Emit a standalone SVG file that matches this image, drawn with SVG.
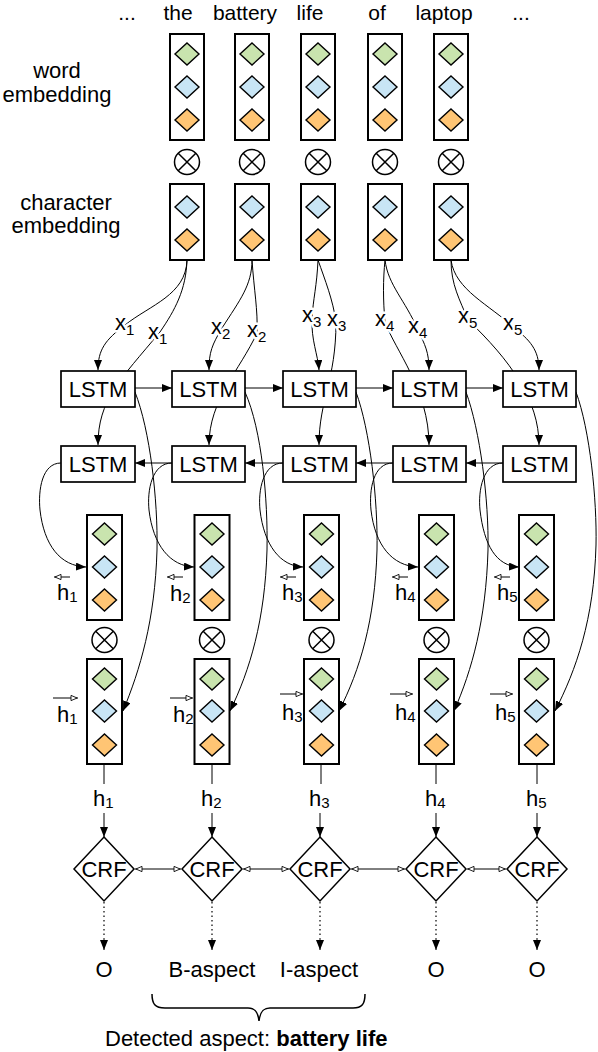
<svg xmlns="http://www.w3.org/2000/svg" width="598" height="1052" viewBox="0 0 598 1052">
<style>
text{font-family:"Liberation Sans",Arial,sans-serif;font-size:22px;fill:#000}
.box{fill:#fff;stroke:#000;stroke-width:2}
.g{fill:#c9e4ae;stroke:#000;stroke-width:1.4}
.b{fill:#c8e5f5;stroke:#000;stroke-width:1.4}
.o{fill:#ffc574;stroke:#000;stroke-width:1.4}
.ox{fill:#fff;stroke:#000;stroke-width:1.5}
.lstm{fill:#fff;stroke:#000;stroke-width:1.7}
.crf{fill:#fff;stroke:#000;stroke-width:1.5}
.c{fill:none;stroke:#000;stroke-width:1}
.dot{fill:none;stroke:#000;stroke-width:1.2;stroke-dasharray:1.5 3}
.halo{stroke:#fff;stroke-width:5;paint-order:stroke;stroke-linejoin:round}
.mid{text-anchor:middle}
.sub{font-size:15px}
.top{font-size:21px}
</style>
<defs>
<marker id="fa" viewBox="0 0 10 8" refX="10" refY="4" markerWidth="10" markerHeight="8" markerUnits="userSpaceOnUse" orient="auto"><path d="M0,0L10,4L0,8z" fill="#000"/></marker>
<marker id="oa" viewBox="0 0 9 8" refX="9" refY="4" markerWidth="8" markerHeight="7" markerUnits="userSpaceOnUse" orient="auto-start-reverse"><path d="M1,1L8,4L1,7z" fill="#fff" stroke="#000" stroke-width="1"/></marker>
<path id="dm" d="M0,-11L12,0L0,11L-12,0z"/>
<g id="otimes"><circle r="12.5" class="ox"/><path d="M-8.8,-8.8L8.8,8.8M8.8,-8.8L-8.8,8.8" stroke="#000" stroke-width="1.5"/></g>
</defs>

<!-- left labels -->
<g id="labels-left">
<text x="57" y="78" class="mid">word</text>
<text x="57" y="102" class="mid">embedding</text>
<text x="66" y="210" class="mid">character</text>
<text x="66" y="233" class="mid">embedding</text>
</g>

<!-- words -->
<g id="words">
<text x="127" y="20" class="mid top">...</text>
<text x="178" y="20" class="mid top">the</text>
<text x="245" y="20" class="mid top">battery</text>
<text x="310" y="20" class="mid top">life</text>
<text x="377" y="20" class="mid top">of</text>
<text x="444" y="20" class="mid top">laptop</text>
<text x="521" y="20" class="mid top">...</text>
</g>

<!-- embedding columns -->
<g id="emb1" transform="translate(187,0)">
<rect x="-17" y="34" width="34" height="106" class="box"/>
<use href="#dm" y="54" class="g"/><use href="#dm" y="87" class="b"/><use href="#dm" y="120" class="o"/>
<use href="#otimes" y="162"/>
<rect x="-17" y="184" width="34" height="76" class="box"/>
<use href="#dm" y="207" class="b"/><use href="#dm" y="240" class="o"/>
</g>
<g id="emb2" transform="translate(252,0)">
<rect x="-17" y="34" width="34" height="106" class="box"/>
<use href="#dm" y="54" class="g"/><use href="#dm" y="87" class="b"/><use href="#dm" y="120" class="o"/>
<use href="#otimes" y="162"/>
<rect x="-17" y="184" width="34" height="76" class="box"/>
<use href="#dm" y="207" class="b"/><use href="#dm" y="240" class="o"/>
</g>
<g id="emb3" transform="translate(318,0)">
<rect x="-17" y="34" width="34" height="106" class="box"/>
<use href="#dm" y="54" class="g"/><use href="#dm" y="87" class="b"/><use href="#dm" y="120" class="o"/>
<use href="#otimes" y="162"/>
<rect x="-17" y="184" width="34" height="76" class="box"/>
<use href="#dm" y="207" class="b"/><use href="#dm" y="240" class="o"/>
</g>
<g id="emb4" transform="translate(385,0)">
<rect x="-17" y="34" width="34" height="106" class="box"/>
<use href="#dm" y="54" class="g"/><use href="#dm" y="87" class="b"/><use href="#dm" y="120" class="o"/>
<use href="#otimes" y="162"/>
<rect x="-17" y="184" width="34" height="76" class="box"/>
<use href="#dm" y="207" class="b"/><use href="#dm" y="240" class="o"/>
</g>
<g id="emb5" transform="translate(451,0)">
<rect x="-17" y="34" width="34" height="106" class="box"/>
<use href="#dm" y="54" class="g"/><use href="#dm" y="87" class="b"/><use href="#dm" y="120" class="o"/>
<use href="#otimes" y="162"/>
<rect x="-17" y="184" width="34" height="76" class="box"/>
<use href="#dm" y="207" class="b"/><use href="#dm" y="240" class="o"/>
</g>

<!-- connectors -->
<g id="connectors">
<!-- inputs -->
<path class="c" d="M187,260 C186,295 150,305 125,325 C105,340 98,350 98,370" marker-end="url(#fa)"/>
<path class="c" d="M187,260 C186,290 175,310 160,332 C120,380 98,400 98,445" marker-end="url(#fa)"/>
<path class="c" d="M252,260 C252,285 240,300 222,328 C212,345 209,352 209,370" marker-end="url(#fa)"/>
<path class="c" d="M252,260 C254,290 258,310 257,333 C240,370 209,400 209,445" marker-end="url(#fa)"/>
<path class="c" d="M318,260 C317,285 313,300 312,318 C311,340 318,355 319,370" marker-end="url(#fa)"/>
<path class="c" d="M318,260 C325,280 333,300 336,322 C336,380 319,400 319,445" marker-end="url(#fa)"/>
<path class="c" d="M385,260 C383,280 383,300 385,322 C395,350 429,390 429,445" marker-end="url(#fa)"/>
<path class="c" d="M385,260 C388,285 405,300 418,330 C425,345 429,352 429,370" marker-end="url(#fa)"/>
<path class="c" d="M451,260 C451,285 460,300 468,320 C510,360 539,400 539,445" marker-end="url(#fa)"/>
<path class="c" d="M451,260 C455,290 490,305 513,327 C530,340 539,350 539,370" marker-end="url(#fa)"/>
<!-- forward / backward LSTM chain -->
<path class="c" d="M135,388 L172,388" marker-end="url(#fa)"/>
<path class="c" d="M245,388 L283,388" marker-end="url(#fa)"/>
<path class="c" d="M356,388 L393,388" marker-end="url(#fa)"/>
<path class="c" d="M466,388 L503,388" marker-end="url(#fa)"/>
<path class="c" d="M172,463 L135,463" marker-end="url(#fa)"/>
<path class="c" d="M283,463 L245,463" marker-end="url(#fa)"/>
<path class="c" d="M393,463 L356,463" marker-end="url(#fa)"/>
<path class="c" d="M503,463 L466,463" marker-end="url(#fa)"/>
<!-- backward LSTM to left h boxes -->
<path class="c" d="M61,463 C42,463 38,490 40,510 C44,545 60,566 86,567" marker-end="url(#fa)"/>
<path class="c" d="M172,463 C152,463 147,490 149,510 C153,545 170,566 194,567" marker-end="url(#fa)"/>
<path class="c" d="M283,463 C263,463 258,490 260,510 C264,545 280,566 303,567" marker-end="url(#fa)"/>
<path class="c" d="M393,463 C373,463 369,490 371,510 C375,545 392,566 418,567" marker-end="url(#fa)"/>
<path class="c" d="M503,463 C483,463 478,490 480,510 C484,545 496,566 519,567" marker-end="url(#fa)"/>
<!-- forward LSTM to right h boxes -->
<path class="c" d="M135,392 C150,430 158,500 157,550 C155,620 140,670 123,711" marker-end="url(#fa)"/>
<path class="c" d="M245,392 C262,430 268,500 267,550 C265,620 250,670 230,711" marker-end="url(#fa)"/>
<path class="c" d="M356,392 C370,430 378,500 377,550 C375,620 360,670 339,711" marker-end="url(#fa)"/>
<path class="c" d="M466,392 C480,430 489,500 488,550 C486,620 472,670 454,711" marker-end="url(#fa)"/>
<path class="c" d="M576,392 C590,430 597,500 596,545 C594,620 576,670 555,711" marker-end="url(#fa)"/>
<!-- h to CRF -->
<path class="c" d="M104,764 L104,784"/><path class="c" d="M104,813 L104,837" marker-end="url(#fa)"/>
<path class="c" d="M212,764 L212,784"/><path class="c" d="M212,813 L212,837" marker-end="url(#fa)"/>
<path class="c" d="M321,764 L321,784"/><path class="c" d="M320,813 L320,837" marker-end="url(#fa)"/>
<path class="c" d="M436,764 L436,784"/><path class="c" d="M436,813 L436,837" marker-end="url(#fa)"/>
<path class="c" d="M537,764 L537,784"/><path class="c" d="M537,813 L537,837" marker-end="url(#fa)"/>
<!-- CRF chain -->
<path class="c" d="M135,869 L181,869" marker-start="url(#oa)" marker-end="url(#oa)"/>
<path class="c" d="M243,869 L289,869" marker-start="url(#oa)" marker-end="url(#oa)"/>
<path class="c" d="M351,869 L405,869" marker-start="url(#oa)" marker-end="url(#oa)"/>
<path class="c" d="M467,869 L506,869" marker-start="url(#oa)" marker-end="url(#oa)"/>
<!-- outputs -->
<path class="dot" d="M104,902 L104,938"/><path class="c" d="M104,938 L104,950" marker-end="url(#fa)"/>
<path class="dot" d="M212,902 L212,938"/><path class="c" d="M212,938 L212,950" marker-end="url(#fa)"/>
<path class="dot" d="M320,902 L320,938"/><path class="c" d="M320,938 L320,950" marker-end="url(#fa)"/>
<path class="dot" d="M436,902 L436,938"/><path class="c" d="M436,938 L436,950" marker-end="url(#fa)"/>
<path class="dot" d="M537,902 L537,938"/><path class="c" d="M537,938 L537,950" marker-end="url(#fa)"/>
</g>

<!-- x labels -->
<g id="xlabels">
<text x="115" y="330" class="halo">x<tspan class="sub" dy="5">1</tspan></text>
<text x="148" y="339" class="halo">x<tspan class="sub" dy="5">1</tspan></text>
<text x="211" y="334" class="halo">x<tspan class="sub" dy="5">2</tspan></text>
<text x="247" y="337" class="halo">x<tspan class="sub" dy="5">2</tspan></text>
<text x="302" y="322" class="halo">x<tspan class="sub" dy="5">3</tspan></text>
<text x="327" y="326" class="halo">x<tspan class="sub" dy="5">3</tspan></text>
<text x="375" y="326" class="halo">x<tspan class="sub" dy="5">4</tspan></text>
<text x="408" y="333" class="halo">x<tspan class="sub" dy="5">4</tspan></text>
<text x="458" y="323" class="halo">x<tspan class="sub" dy="5">5</tspan></text>
<text x="503" y="330" class="halo">x<tspan class="sub" dy="5">5</tspan></text>
</g>

<!-- LSTM nodes -->
<g id="lstm-f1"><rect x="61" y="371" width="74" height="36" class="lstm"/><text x="98" y="397" class="mid">LSTM</text></g>
<g id="lstm-f2"><rect x="172" y="371" width="73" height="36" class="lstm"/><text x="208.5" y="397" class="mid">LSTM</text></g>
<g id="lstm-f3"><rect x="283" y="371" width="73" height="36" class="lstm"/><text x="319.5" y="397" class="mid">LSTM</text></g>
<g id="lstm-f4"><rect x="393" y="371" width="73" height="36" class="lstm"/><text x="429.5" y="397" class="mid">LSTM</text></g>
<g id="lstm-f5"><rect x="503" y="371" width="73" height="36" class="lstm"/><text x="539.5" y="397" class="mid">LSTM</text></g>
<g id="lstm-b1"><rect x="61" y="446" width="74" height="36" class="lstm"/><text x="98" y="472" class="mid">LSTM</text></g>
<g id="lstm-b2"><rect x="172" y="446" width="73" height="36" class="lstm"/><text x="208.5" y="472" class="mid">LSTM</text></g>
<g id="lstm-b3"><rect x="283" y="446" width="73" height="36" class="lstm"/><text x="319.5" y="472" class="mid">LSTM</text></g>
<g id="lstm-b4"><rect x="393" y="446" width="73" height="36" class="lstm"/><text x="429.5" y="472" class="mid">LSTM</text></g>
<g id="lstm-b5"><rect x="503" y="446" width="73" height="36" class="lstm"/><text x="539.5" y="472" class="mid">LSTM</text></g>

<!-- hidden state columns -->
<g id="h1" transform="translate(104.5,0)">
<rect x="-17.5" y="515" width="35" height="105" class="box"/>
<use href="#dm" y="534" class="g"/><use href="#dm" y="567" class="b"/><use href="#dm" y="600" class="o"/>
<use href="#otimes" y="640"/>
<rect x="-17.5" y="659" width="35" height="105" class="box"/>
<use href="#dm" y="679" class="g"/><use href="#dm" y="711" class="b"/><use href="#dm" y="745" class="o"/>
</g>
<g id="h2" transform="translate(212,0)">
<rect x="-17.5" y="515" width="35" height="105" class="box"/>
<use href="#dm" y="534" class="g"/><use href="#dm" y="567" class="b"/><use href="#dm" y="600" class="o"/>
<use href="#otimes" y="640"/>
<rect x="-17.5" y="659" width="35" height="105" class="box"/>
<use href="#dm" y="679" class="g"/><use href="#dm" y="711" class="b"/><use href="#dm" y="745" class="o"/>
</g>
<g id="h3" transform="translate(321.5,0)">
<rect x="-17.5" y="515" width="35" height="105" class="box"/>
<use href="#dm" y="534" class="g"/><use href="#dm" y="567" class="b"/><use href="#dm" y="600" class="o"/>
<use href="#otimes" y="640"/>
<rect x="-17.5" y="659" width="35" height="105" class="box"/>
<use href="#dm" y="679" class="g"/><use href="#dm" y="711" class="b"/><use href="#dm" y="745" class="o"/>
</g>
<g id="h4" transform="translate(436.5,0)">
<rect x="-17.5" y="515" width="35" height="105" class="box"/>
<use href="#dm" y="534" class="g"/><use href="#dm" y="567" class="b"/><use href="#dm" y="600" class="o"/>
<use href="#otimes" y="640"/>
<rect x="-17.5" y="659" width="35" height="105" class="box"/>
<use href="#dm" y="679" class="g"/><use href="#dm" y="711" class="b"/><use href="#dm" y="745" class="o"/>
</g>
<g id="h5" transform="translate(536.5,0)">
<rect x="-17.5" y="515" width="35" height="105" class="box"/>
<use href="#dm" y="534" class="g"/><use href="#dm" y="567" class="b"/><use href="#dm" y="600" class="o"/>
<use href="#otimes" y="640"/>
<rect x="-17.5" y="659" width="35" height="105" class="box"/>
<use href="#dm" y="679" class="g"/><use href="#dm" y="711" class="b"/><use href="#dm" y="745" class="o"/>
</g>

<!-- h labels with arrows -->
<g id="hlabels">
<path class="c" d="M70,577 L54,577" stroke-width="0.8" marker-end="url(#oa)"/>
<text x="57" y="600">h<tspan class="sub" dy="2">1</tspan></text>
<path class="c" d="M53,698 L78,698" stroke-width="0.8" marker-end="url(#oa)"/>
<text x="57" y="722">h<tspan class="sub" dy="2">1</tspan></text>

<path class="c" d="M183,577 L167,577" stroke-width="0.8" marker-end="url(#oa)"/>
<text x="170" y="601">h<tspan class="sub" dy="2">2</tspan></text>
<path class="c" d="M170,698 L193,698" stroke-width="0.8" marker-end="url(#oa)"/>
<text x="173" y="722">h<tspan class="sub" dy="2">2</tspan></text>

<path class="c" d="M296,577 L280,577" stroke-width="0.8" marker-end="url(#oa)"/>
<text x="282" y="600">h<tspan class="sub" dy="2">3</tspan></text>
<path class="c" d="M280,694 L303,694" stroke-width="0.8" marker-end="url(#oa)"/>
<text x="282" y="720">h<tspan class="sub" dy="2">3</tspan></text>

<path class="c" d="M408,577 L392,577" stroke-width="0.8" marker-end="url(#oa)"/>
<text x="395" y="600">h<tspan class="sub" dy="2">4</tspan></text>
<path class="c" d="M390,694 L413,694" stroke-width="0.8" marker-end="url(#oa)"/>
<text x="395" y="720">h<tspan class="sub" dy="2">4</tspan></text>

<path class="c" d="M510,577 L494,577" stroke-width="0.8" marker-end="url(#oa)"/>
<text x="497" y="600">h<tspan class="sub" dy="2">5</tspan></text>
<path class="c" d="M490,694 L513,694" stroke-width="0.8" marker-end="url(#oa)"/>
<text x="495" y="720">h<tspan class="sub" dy="2">5</tspan></text>
</g>

<!-- combined h labels -->
<g id="hcomb">
<text x="93" y="806">h<tspan class="sub" dy="2">1</tspan></text>
<text x="201" y="806">h<tspan class="sub" dy="2">2</tspan></text>
<text x="309" y="806">h<tspan class="sub" dy="2">3</tspan></text>
<text x="425" y="806">h<tspan class="sub" dy="2">4</tspan></text>
<text x="526" y="806">h<tspan class="sub" dy="2">5</tspan></text>
</g>

<!-- CRF nodes -->
<g id="crf1"><path d="M104,837L134,869L104,901L74,869z" class="crf"/><text x="104" y="877" class="mid">CRF</text></g>
<g id="crf2"><path d="M212,837L242,869L212,901L182,869z" class="crf"/><text x="212" y="877" class="mid">CRF</text></g>
<g id="crf3"><path d="M320,837L350,869L320,901L290,869z" class="crf"/><text x="320" y="877" class="mid">CRF</text></g>
<g id="crf4"><path d="M436,837L466,869L436,901L406,869z" class="crf"/><text x="436" y="877" class="mid">CRF</text></g>
<g id="crf5"><path d="M537,837L567,869L537,901L507,869z" class="crf"/><text x="537" y="877" class="mid">CRF</text></g>

<!-- outputs -->
<g id="outputs">
<text x="104" y="977" class="mid">O</text>
<text x="212" y="977" class="mid">B-aspect</text>
<text x="319" y="977" class="mid">I-aspect</text>
<text x="436" y="977" class="mid">O</text>
<text x="537" y="977" class="mid">O</text>
</g>

<g id="brace">
<path d="M152,994 C152,1004 155,1008 165,1008 L248,1008 C255,1008 258,1012 259,1021 C260,1012 263,1008 270,1008 L353,1008 C362,1008 365,1004 365,994" fill="none" stroke="#000" stroke-width="1.5"/>
<text x="105" y="1046">Detected aspect: <tspan font-weight="bold">battery life</tspan></text>
</g>
</svg>
